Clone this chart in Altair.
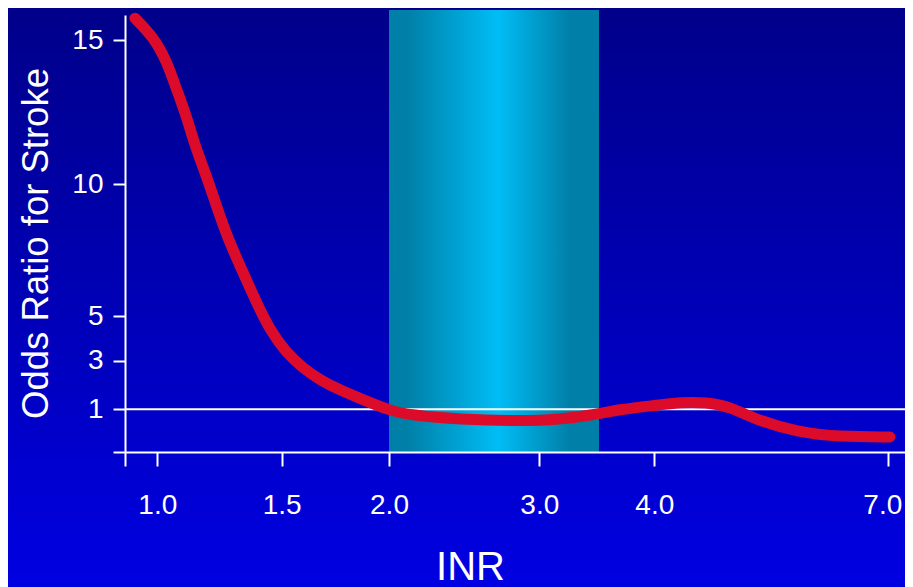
import altair as alt
import pandas as pd

# Curve (INR vs odds ratio for stroke)
inr = [0.91, 0.984, 1.038, 1.071, 1.118, 1.152, 1.199, 1.252, 1.292, 1.346, 1.40,
       1.453, 1.523, 1.601, 1.678, 1.772, 1.865, 2.007, 2.14, 2.47, 2.87, 3.173,
       3.452, 3.69, 4.073, 4.33, 4.67, 4.97, 5.31, 5.83, 6.38, 7.02]
odds = [15.76, 15.11, 14.25, 13.44, 12.34, 11.30, 10.25, 8.76, 7.75, 6.62, 5.48,
        4.37, 3.33, 2.69, 2.21, 1.79, 1.45, 0.967, 0.866, 0.764, 0.724, 0.764,
        0.866, 1.0, 1.18, 1.29, 1.29, 1.11, 0.748, 0.47, 0.354, 0.354]

# Therapeutic range band
band_lo = [2.0]
band_hi = [3.5]

# Axis ticks
x_ticks = [0.87, 1.0, 1.5, 2.0, 3.0, 4.0, 7.0]
y_ticks = [0, 1, 3, 5, 10, 15]

curve_df = pd.DataFrame({"inr": inr, "odds": odds})
band_df = pd.DataFrame({"lo": band_lo, "hi": band_hi})
ref_df = pd.DataFrame({"odds": [1]})
bg_df = pd.DataFrame({"k": [0]})

W, H = 780, 437

xscale = alt.Scale(domain=[0.87, 1.0, 1.5, 2.0, 3.0, 3.5, 4.0, 7.0, 7.214],
                   range=[0, 32.3, 156.7, 264, 414.3, 474, 529.3, 763.3, 780],
                   nice=False, zero=False)
yscale = alt.Scale(domain=[0, 1, 3, 5, 10, 15, 15.87],
                   range=[437, 394.3, 345.7, 301, 169, 25, 0],
                   nice=False, zero=False)

FONT = "Liberation Sans"

xaxis = alt.Axis(values=x_ticks, title="INR", zindex=1,
                 labelExpr="datum.value < 0.9 ? '' : format(datum.value, '.1f')",
                 grid=False, domainColor="white", domainWidth=2, tickColor="white",
                 tickWidth=2, tickSize=14, labelColor="white", labelFont=FONT,
                 labelFontSize=28, labelBaseline="alphabetic", labelPadding=47,
                 labelOffset={"condition": {"test": "datum.value == 7", "value": -6},
                              "value": 0},
                 labelOverlap=False, labelFlush=False,
                 titleFont=FONT, titleFontSize=40, titleFontWeight="normal",
                 titleColor="white", titleX=345, titleY=127,
                 titleBaseline="alphabetic", titleAlign="center")
yaxis = alt.Axis(values=y_ticks, title="Odds Ratio for Stroke", zindex=1,
                 labelExpr="datum.value == 0 ? '' : datum.label",
                 grid=False, domainColor="white", domainWidth=2, tickColor="white",
                 tickWidth=2, tickSize=12, labelColor="white", labelFont=FONT,
                 labelFontSize=28, labelPadding=10, labelOverlap=False,
                 labelFlush=False,
                 titleFont=FONT, titleFontSize=36.5, titleFontWeight="normal",
                 titleColor="white", titleAngle=270, titleX=-78, titleY=228,
                 titleBaseline="alphabetic", titleAlign="center")

bg = alt.Chart(bg_df).mark_rect(
    fill=alt.Gradient(gradient="linear",
                      stops=[alt.GradientStop(color="#00008a", offset=0),
                             alt.GradientStop(color="#0000e2", offset=1)],
                      x1=0, y1=0, x2=0, y2=1)
).encode(x=alt.value(-117), x2=alt.value(W + 10), y=alt.value(-7), y2=alt.value(572))

band = alt.Chart(band_df).mark_rect(
    fill=alt.Gradient(gradient="linear",
                      stops=[alt.GradientStop(color="#0080a8", offset=0),
                             alt.GradientStop(color="#0080a8", offset=0.09),
                             alt.GradientStop(color="#00bdf6", offset=0.52),
                             alt.GradientStop(color="#0080a8", offset=0.86),
                             alt.GradientStop(color="#0080a8", offset=1)],
                      x1=0, y1=0, x2=1, y2=0)
).encode(x=alt.X("lo:Q", scale=xscale, axis=xaxis),
         x2="hi:Q", y=alt.value(-5), y2=alt.value(H))

rule = alt.Chart(ref_df).mark_rule(color="white", strokeWidth=2).encode(
    y=alt.Y("odds:Q", scale=yscale, axis=yaxis),
    x=alt.value(0), x2=alt.value(W))

line = alt.Chart(curve_df).mark_line(
    color="#dc0b2a", strokeWidth=11, strokeCap="round", strokeJoin="round",
    interpolate="basis"
).encode(x=alt.X("inr:Q", scale=xscale, axis=xaxis),
         y=alt.Y("odds:Q", scale=yscale, axis=yaxis))

chart = alt.layer(bg, band, rule, line).properties(
    width=W, height=H,
    autosize=alt.AutoSizeParams(type="none"),
    padding={"left": 117, "top": 7, "right": 0, "bottom": 135},
    background="#0000e2",
).configure_view(stroke=None)

chart.save("out.html", embed_options={"renderer": "svg", "actions": False})
